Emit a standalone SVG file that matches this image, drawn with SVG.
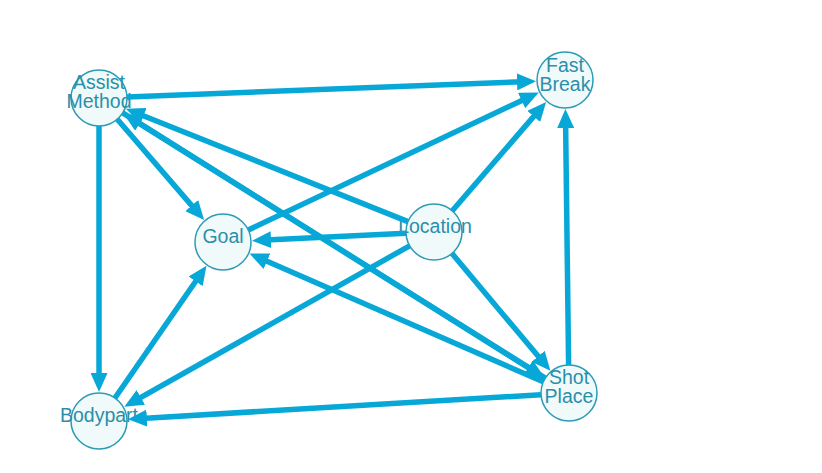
<svg xmlns="http://www.w3.org/2000/svg" width="822" height="473" viewBox="0 0 822 473">
<style>
.node circle{fill:#f1fafb;stroke:#2c9bb4;stroke-width:1.5}
.node text{font-family:"Liberation Sans",Arial,sans-serif;font-size:19.5px;fill:#2a8fa9;text-anchor:middle}
.edge{stroke:#07a8d8;stroke-width:5.5;fill:none;marker-end:url(#ah)}
</style>
<defs>
<marker id="ah" markerUnits="userSpaceOnUse" markerWidth="19" markerHeight="17" refX="5" refY="8.5" orient="auto">
<path d="M0,0 L19,8.5 L0,17 z" fill="#07a8d8"/>
</marker>
</defs>
<rect width="822" height="473" fill="#ffffff"/>
<g id="nodes">
<g id="assist-method" class="node"><circle cx="99" cy="98" r="28"/><text x="99" y="89">Assist</text><text x="99" y="108">Method</text></g>
<g id="fast-break" class="node"><circle cx="565" cy="80" r="28"/><text x="565" y="72">Fast</text><text x="565" y="91">Break</text></g>
<g id="goal" class="node"><circle cx="223" cy="242" r="28"/><text x="223" y="243">Goal</text></g>
<g id="location" class="node"><circle cx="434" cy="232" r="28"/><text x="435" y="233">Location</text></g>
<g id="shot-place" class="node"><circle cx="569" cy="393" r="28"/><text x="569" y="384">Shot</text><text x="569" y="403">Place</text></g>
<g id="bodypart" class="node"><circle cx="99" cy="421" r="28"/><text x="99" y="422">Bodypart</text></g>
</g>
<g id="connectors">
<line class="edge" x1="127" y1="96.9" x2="522" y2="81.7"/>
<line class="edge" x1="117.3" y1="119.2" x2="195" y2="209.4"/>
<line class="edge" x1="99" y1="126" x2="99" y2="378"/>
<line class="edge" x1="408" y1="221.6" x2="138.9" y2="114"/>
<line class="edge" x1="545.3" y1="378.1" x2="135.4" y2="120.9"/>
<line class="edge" x1="122.7" y1="112.9" x2="532.6" y2="370.1"/>
<line class="edge" x1="248.3" y1="230" x2="526.1" y2="98.4"/>
<line class="edge" x1="452.3" y1="210.8" x2="537" y2="112.6"/>
<line class="edge" x1="406" y1="233.3" x2="266" y2="240"/>
<line class="edge" x1="409.6" y1="245.8" x2="136.5" y2="399.9"/>
<line class="edge" x1="452" y1="253.5" x2="541.4" y2="360.1"/>
<line class="edge" x1="568.6" y1="365" x2="565.6" y2="123"/>
<line class="edge" x1="543.3" y1="381.8" x2="262.4" y2="259.2"/>
<line class="edge" x1="541" y1="394.7" x2="141.9" y2="418.4"/>
<line class="edge" x1="114.9" y1="398" x2="198.5" y2="277.3"/>
</g>
</svg>
